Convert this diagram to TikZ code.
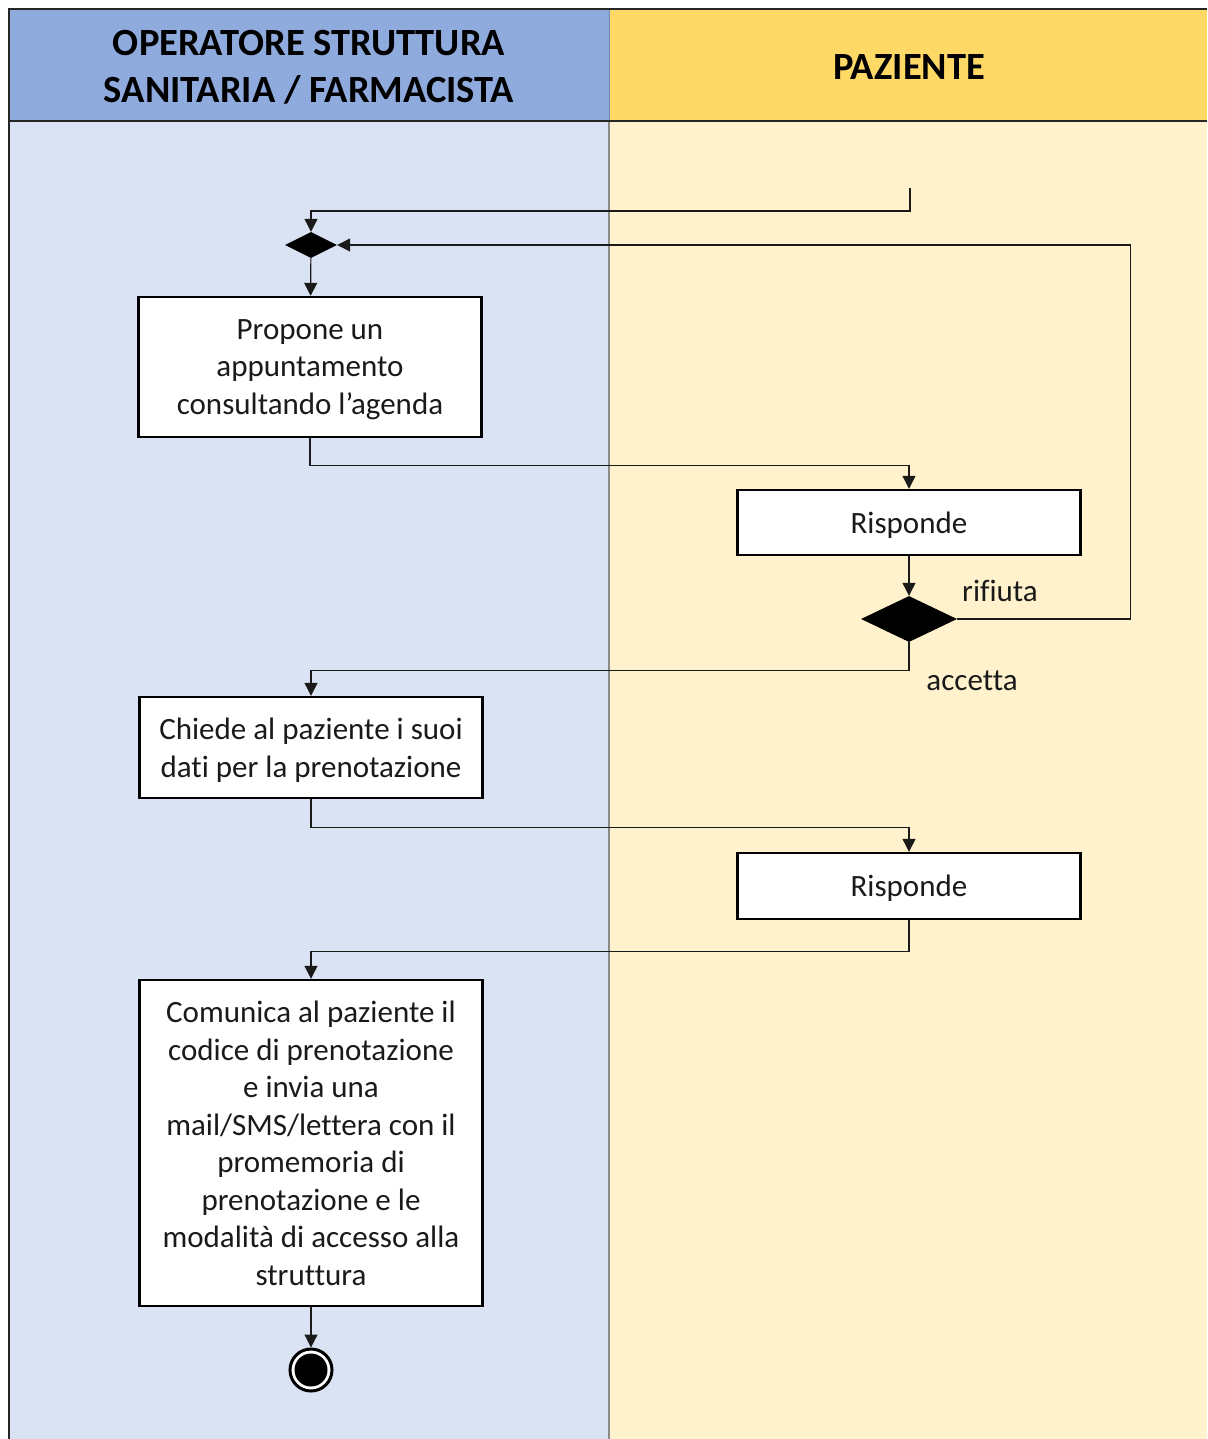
\documentclass[tikz,border=0pt]{standalone}
\usepackage{fontspec}
\setmainfont{Carlito}[Ligatures={NoCommon}]
\usetikzlibrary{arrows.meta,shapes.geometric}

\definecolor{headblue}{HTML}{8FAADC}
\definecolor{headyellow}{HTML}{FFD966}
\definecolor{laneblue}{HTML}{DAE3F3}
\definecolor{laneyellow}{HTML}{FFF2CC}
\definecolor{inkcol}{HTML}{1A1A1A}
\definecolor{divider}{HTML}{8A8A8A}

\begin{document}
\begin{tikzpicture}[x=1pt,y=-1pt,
  flow/.style={draw=inkcol, line width=1.2pt, -{Triangle[length=13pt,width=13pt]}},
  actbox/.style={draw=black, line width=2.4pt, fill=white, align=center,
    text=inkcol, font=\fontsize{31}{37.5}\selectfont, inner sep=0pt,
    text depth=0pt, minimum width=343pt},
  mergebox/.style={diamond, fill=black, draw=none, inner sep=0pt,
    minimum width=52pt, minimum height=26pt},
  decbox/.style={diamond, fill=black, draw=none, inner sep=0pt,
    minimum width=96pt, minimum height=46pt},
  guard/.style={text=inkcol, font=\fontsize{31}{35}\selectfont, inner sep=0pt},
  lanehead/.style={text=black, font=\bfseries\fontsize{38.5}{47}\selectfont, align=center}
]
\useasboundingbox (0,0) rectangle (1207,1439);
\fill[white] (0,0) rectangle (1207,1439);

% swimlanes
\fill[laneblue] (9,121) rectangle (609,1439);
\fill[laneyellow] (609,121) rectangle (1207,1439);
\fill[headblue] (9,9) rectangle (609,121);
\fill[headyellow] (609,9) rectangle (1207,121);
\draw[divider, line width=2.6pt] (609,121) -- (609,1439);
\draw[headblue!80!black, line width=1pt] (609,9) -- (609,121);
\draw[black!85, line width=2.4pt] (1207,9) -- (9,9) -- (9,1439);
\draw[black!85, line width=2.4pt] (9,121) -- (1207,121);

\node[lanehead] (hop) at (309,67) {OPERATORE STRUTTURA\\SANITARIA / FARMACISTA};
\node[lanehead] (hpz) at (909,67) {PAZIENTE};

% activity nodes
\coordinate (start) at (910,188);
\node[mergebox] (merge) at (311,245) {};
\node[actbox, minimum height=140pt] (box1) at (310,367)
  {Propone un\\appuntamento\\consultando l’agenda};
\node[actbox, minimum height=65pt] (box2) at (909,522.5) {Risponde};
\node[decbox] (dec) at (909,619) {};
\node[actbox, minimum height=101pt] (box3) at (311,747.5)
  {Chiede al paziente i suoi\\dati per la prenotazione};
\node[actbox, minimum height=66pt] (box4) at (909,886) {Risponde};
\node[actbox, minimum height=326pt] (box5) at (311,1143)
  {Comunica al paziente il\\codice di prenotazione\\e invia una\\mail/SMS/lettera con il\\promemoria di\\prenotazione e le\\modalità di accesso alla\\struttura};
\node[circle, draw=black, line width=3pt, fill=white, minimum size=42pt, inner sep=0pt] (end) at (311,1370) {};
\node[circle, fill=black, minimum size=33pt, inner sep=0pt] (endcore) at (end.center) {};

% guards
\node[guard] (lrif) at (1000,591) {rifiuta};
\node[guard] (lacc) at (972,681) {accetta};

% connectors
\draw[flow] (start) -- ++(0,23) -| (merge.north);
\draw[flow] (merge) -- (box1);
\draw[flow] (box1.south) -- ++(0,27) -| (box2.north);
\draw[flow] (box2) -- (dec);
\draw[flow] (dec.east) -- ++(173,0) |- (merge.east);
\draw[flow] (dec.south) -- ++(0,28) -| (box3.north);
\draw[flow] (box3.south) -- ++(0,28) -| (box4.north);
\draw[flow] (box4.south) -- ++(0,31) -| (box5.north);
\draw[flow] (box5) -- (end);
\end{tikzpicture}
\end{document}
